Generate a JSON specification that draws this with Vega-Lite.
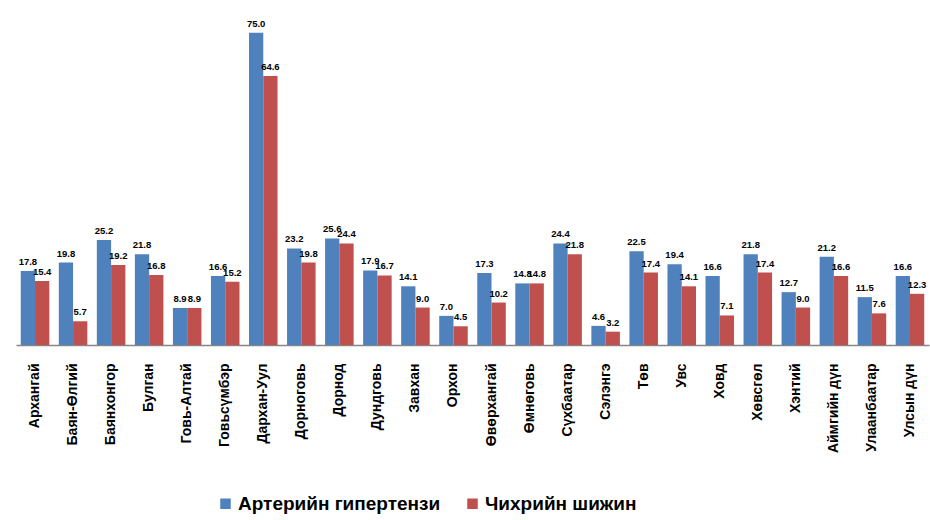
{
  "$schema": "https://vega.github.io/schema/vega-lite/v6.json",
  "width": 913,
  "height": 333,
  "autosize": {"type": "none"},
  "padding": {"left": 16, "top": 12, "right": 1, "bottom": 175},
  "background": "white",
  "config": {
    "view": {"stroke": null},
    "font": "Liberation Sans"
  },
  "datasets": {
    "d": [
      {"aimag": "Архангай", "series": "Артерийн гипертензи", "value": 17.8},
      {"aimag": "Архангай", "series": "Чихрийн шижин", "value": 15.4},
      {"aimag": "Баян-Өлгий", "series": "Артерийн гипертензи", "value": 19.8},
      {"aimag": "Баян-Өлгий", "series": "Чихрийн шижин", "value": 5.7},
      {"aimag": "Баянхонгор", "series": "Артерийн гипертензи", "value": 25.2},
      {"aimag": "Баянхонгор", "series": "Чихрийн шижин", "value": 19.2},
      {"aimag": "Булган", "series": "Артерийн гипертензи", "value": 21.8},
      {"aimag": "Булган", "series": "Чихрийн шижин", "value": 16.8},
      {"aimag": "Говь-Алтай", "series": "Артерийн гипертензи", "value": 8.9},
      {"aimag": "Говь-Алтай", "series": "Чихрийн шижин", "value": 8.9},
      {"aimag": "Говьсүмбэр", "series": "Артерийн гипертензи", "value": 16.6},
      {"aimag": "Говьсүмбэр", "series": "Чихрийн шижин", "value": 15.2},
      {"aimag": "Дархан-Уул", "series": "Артерийн гипертензи", "value": 75.0},
      {"aimag": "Дархан-Уул", "series": "Чихрийн шижин", "value": 64.6},
      {"aimag": "Дорноговь", "series": "Артерийн гипертензи", "value": 23.2},
      {"aimag": "Дорноговь", "series": "Чихрийн шижин", "value": 19.8},
      {"aimag": "Дорнод", "series": "Артерийн гипертензи", "value": 25.6},
      {"aimag": "Дорнод", "series": "Чихрийн шижин", "value": 24.4},
      {"aimag": "Дундговь", "series": "Артерийн гипертензи", "value": 17.9},
      {"aimag": "Дундговь", "series": "Чихрийн шижин", "value": 16.7},
      {"aimag": "Завхан", "series": "Артерийн гипертензи", "value": 14.1},
      {"aimag": "Завхан", "series": "Чихрийн шижин", "value": 9.0},
      {"aimag": "Орхон", "series": "Артерийн гипертензи", "value": 7.0},
      {"aimag": "Орхон", "series": "Чихрийн шижин", "value": 4.5},
      {"aimag": "Өвөрхангай", "series": "Артерийн гипертензи", "value": 17.3},
      {"aimag": "Өвөрхангай", "series": "Чихрийн шижин", "value": 10.2},
      {"aimag": "Өмнөговь", "series": "Артерийн гипертензи", "value": 14.8},
      {"aimag": "Өмнөговь", "series": "Чихрийн шижин", "value": 14.8},
      {"aimag": "Сүхбаатар", "series": "Артерийн гипертензи", "value": 24.4},
      {"aimag": "Сүхбаатар", "series": "Чихрийн шижин", "value": 21.8},
      {"aimag": "Сэлэнгэ", "series": "Артерийн гипертензи", "value": 4.6},
      {"aimag": "Сэлэнгэ", "series": "Чихрийн шижин", "value": 3.2},
      {"aimag": "Төв", "series": "Артерийн гипертензи", "value": 22.5},
      {"aimag": "Төв", "series": "Чихрийн шижин", "value": 17.4},
      {"aimag": "Увс", "series": "Артерийн гипертензи", "value": 19.4},
      {"aimag": "Увс", "series": "Чихрийн шижин", "value": 14.1},
      {"aimag": "Ховд", "series": "Артерийн гипертензи", "value": 16.6},
      {"aimag": "Ховд", "series": "Чихрийн шижин", "value": 7.1},
      {"aimag": "Хөвсгөл", "series": "Артерийн гипертензи", "value": 21.8},
      {"aimag": "Хөвсгөл", "series": "Чихрийн шижин", "value": 17.4},
      {"aimag": "Хэнтий", "series": "Артерийн гипертензи", "value": 12.7},
      {"aimag": "Хэнтий", "series": "Чихрийн шижин", "value": 9.0},
      {"aimag": "Аймгийн дүн", "series": "Артерийн гипертензи", "value": 21.2},
      {"aimag": "Аймгийн дүн", "series": "Чихрийн шижин", "value": 16.6},
      {"aimag": "Улаанбаатар", "series": "Артерийн гипертензи", "value": 11.5},
      {"aimag": "Улаанбаатар", "series": "Чихрийн шижин", "value": 7.6},
      {"aimag": "Улсын дүн", "series": "Артерийн гипертензи", "value": 16.6},
      {"aimag": "Улсын дүн", "series": "Чихрийн шижин", "value": 12.3}
    ]
  },
  "data": {"name": "d"},
  "encoding": {
    "x": {
      "field": "aimag",
      "type": "nominal",
      "sort": null,
      "scale": {"paddingInner": 0.25, "paddingOuter": 0.125},
      "axis": {
        "title": null,
        "labelAngle": -90,
        "labelAlign": "right",
        "labelBaseline": "middle",
        "labelFontSize": 14,
        "labelFontWeight": "bold",
        "labelColor": "black",
        "labelPadding": 18,
        "ticks": false,
        "domainColor": "#868686",
        "domainWidth": 1.5
      }
    },
    "xOffset": {"field": "series", "type": "nominal", "sort": ["Артерийн гипертензи", "Чихрийн шижин"]},
    "y": {
      "field": "value",
      "type": "quantitative",
      "scale": {"domain": [0, 80], "nice": false},
      "axis": null
    }
  },
  "layer": [
    {
      "mark": {"type": "bar"},
      "encoding": {
        "color": {
          "field": "series",
          "type": "nominal",
          "sort": ["Артерийн гипертензи", "Чихрийн шижин"],
          "scale": {"range": ["#4F81BD", "#C0504D"]},
          "legend": {
            "title": null,
            "orient": "none",
            "direction": "horizontal",
            "legendX": 200,
            "legendY": 482,
            "symbolType": "square",
            "symbolSize": 110,
            "symbolStrokeWidth": 0,
            "labelFontSize": 19,
            "labelFontWeight": "bold",
            "labelColor": "black",
            "labelLimit": 0,
            "columnPadding": 22,
            "symbolOffset": 0,
            "labelOffset": 3
          }
        }
      }
    },
    {
      "mark": {"type": "text", "dy": -9, "fontSize": 9.5, "fontWeight": "bold", "color": "black"},
      "encoding": {
        "text": {"field": "value", "type": "quantitative", "format": ".1f"}
      }
    }
  ]
}
